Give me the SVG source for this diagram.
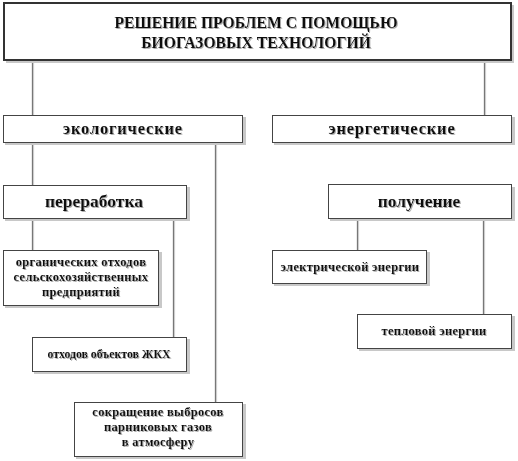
<svg xmlns="http://www.w3.org/2000/svg" width="518" height="461" viewBox="0 0 518 461">
<defs>
<filter id="ts" x="-5%" y="-20%" width="110%" height="140%">
<feDropShadow dx="1" dy="1" stdDeviation="0.5" flood-color="#999" flood-opacity="0.8"/>
</filter>
</defs>
<style>
.sh{fill:#c8c8c8;stroke:none}
.bx{fill:#fff;stroke:#444;stroke-width:1}
.tb{fill:#fff;stroke:#333;stroke-width:2}
.ln{stroke:#777;stroke-width:1.3;fill:none}
.lns{stroke:#ddd;stroke-width:1.3;fill:none}
text{font-family:"Liberation Serif","Times New Roman",serif;font-weight:bold;fill:#111;text-anchor:middle;filter:url(#ts)}
.t1{font-size:15.7px}
.t2{font-size:16.5px;letter-spacing:0.8px}
.t3{font-size:17.5px}
.t4{font-size:12.5px;letter-spacing:0.3px}
.t5{font-size:11.8px}
</style>
<g id="connectors">
<path class="lns" d="M33.5 60V116M485.5 60V116M33.5 142V185M216.5 142V402M33.5 218V250M174.5 218V337M358.5 218V250M484.5 218V314"/>
<path class="ln" d="M32.5 60V116M484.5 60V116M32.5 142V185M215.5 142V402M32.5 218V250M173.5 218V337M357.5 218V250M483.5 218V314"/>
</g>
<g id="title">
<rect class="sh" x="6" y="5" width="508" height="58"/>
<rect class="tb" x="4" y="3" width="507" height="57"/>
<text class="t1" x="256" y="28">РЕШЕНИЕ ПРОБЛЕМ С ПОМОЩЬЮ</text>
<text class="t1" x="256" y="48">БИОГАЗОВЫХ ТЕХНОЛОГИЙ</text>
</g>
<g id="ecol">
<rect class="sh" x="5" y="117" width="241" height="28"/>
<rect class="bx" x="3.5" y="115.5" width="239" height="27"/>
<text class="t2" x="123" y="134">экологические</text>
</g>
<g id="energ">
<rect class="sh" x="274" y="117" width="241" height="28"/>
<rect class="bx" x="272.5" y="115.5" width="239" height="27"/>
<text class="t2" x="392" y="134">энергетические</text>
</g>
<g id="pererabotka">
<rect class="sh" x="5" y="187" width="185" height="34"/>
<rect class="bx" x="3.5" y="185.5" width="183" height="33"/>
<text class="t3" x="94" y="207">переработка</text>
</g>
<g id="poluchenie">
<rect class="sh" x="330" y="187" width="185" height="34"/>
<rect class="bx" x="328.5" y="184.5" width="183" height="34"/>
<text class="t3" x="419" y="207">получение</text>
</g>
<g id="organic">
<rect class="sh" x="5" y="252" width="157" height="56"/>
<rect class="bx" x="3.5" y="250.5" width="155" height="55"/>
<text class="t4" x="81" y="266">органических отходов</text>
<text class="t4" x="81" y="281">сельскохозяйственных</text>
<text class="t4" x="81" y="296">предприятий</text>
</g>
<g id="zhkh">
<rect class="sh" x="34" y="339" width="156" height="35"/>
<rect class="bx" x="32.5" y="337.5" width="154" height="34"/>
<text class="t5" x="109" y="358">отходов объектов ЖКХ</text>
</g>
<g id="sokr">
<rect class="sh" x="76" y="404" width="170" height="55"/>
<rect class="bx" x="74.5" y="402.5" width="168" height="54"/>
<text class="t4" x="158" y="416">сокращение выбросов</text>
<text class="t4" x="158" y="431">парниковых газов</text>
<text class="t4" x="158" y="446">в атмосферу</text>
</g>
<g id="elektr">
<rect class="sh" x="274" y="252" width="156" height="34"/>
<rect class="bx" x="272.5" y="250.5" width="154" height="33"/>
<text class="t4" x="350" y="271">электрической энергии</text>
</g>
<g id="teplo">
<rect class="sh" x="359" y="316" width="156" height="35"/>
<rect class="bx" x="357.5" y="314.5" width="154" height="34"/>
<text class="t4" x="434" y="335">тепловой энергии</text>
</g>
</svg>
